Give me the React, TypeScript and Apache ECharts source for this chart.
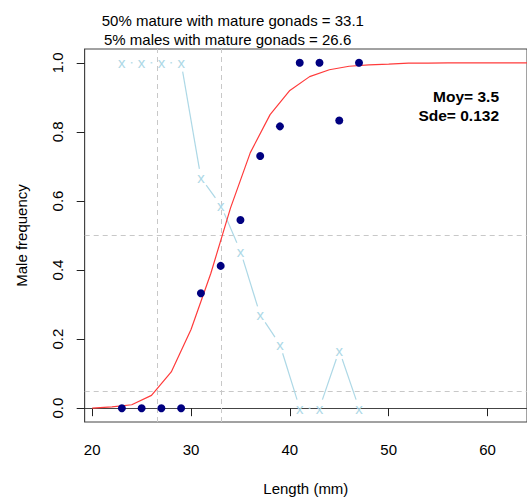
import React, { useEffect, useRef } from "react";
import * as echarts from "echarts";

// ---- data ----
const lengths = [23, 25, 27, 29, 31, 33, 35, 37, 39, 41, 43, 45, 47];
const maleFreq = [0, 0, 0, 0, 0.333, 0.412, 0.545, 0.73, 0.816, 1, 1, 0.833, 1];
const femaleFreq = [1, 1, 1, 1, 0.667, 0.588, 0.455, 0.27, 0.184, 0, 0, 0.167, 0];
const curveLengths = [20, 22, 24, 26, 28, 30, 32, 34, 36, 38, 40, 42, 44, 46, 48, 50, 52, 54, 56, 58, 60, 62, 64];
const curveValues = [0.0, 0.004, 0.01, 0.037, 0.105, 0.228, 0.39, 0.58, 0.74, 0.85, 0.92, 0.96, 0.98, 0.99, 0.994, 0.996, 0.999, 0.999, 1, 1, 1, 1, 1];
const xTicks = [20, 30, 40, 50, 60];
const yTicks = [0, 0.2, 0.4, 0.6, 0.8, 1.0];
const l50 = 33.1;
const l05 = 26.6;
const refLevels = [0.5, 0.05];
const titleLines = ["50% mature with mature gonads = 33.1", "5% males with mature gonads = 26.6"];
const statLines = ["Moy= 3.5", "Sde= 0.132"];

const FONT = '"Liberation Sans", Arial, sans-serif';

export default function App() {
  const ref = useRef<HTMLDivElement>(null);
  useEffect(() => {
    if (!ref.current) return;
    const chart = echarts.init(ref.current, null, { renderer: "svg" });
    const gap = 9;
    const n = lengths.length;
    const option: any = {
      animation: false,
      grid: {
        left: 84.7,
        top: 49,
        bottom: 78.3,
        right: -4.4,
        show: true,
        borderColor: "#444",
        borderWidth: 1,
        containLabel: false,
      },
      xAxis: {
        type: "value",
        min: 19.24,
        max: 64,
        name: "Length (mm)",
        nameLocation: "middle",
        nameGap: 59,
        nameTextStyle: { fontFamily: FONT, fontSize: 15, color: "#000" },
        axisLine: { show: true, lineStyle: { color: "#444" } },
        axisTick: { show: true, length: 8, lineStyle: { color: "#222" }, customValues: xTicks },
        axisLabel: {
          customValues: xTicks,
          fontFamily: FONT,
          fontSize: 15,
          color: "#000",
          margin: 20,
        },
        splitLine: { show: false },
      },
      yAxis: {
        type: "value",
        min: -0.04,
        max: 1.04,
        name: "Male frequency",
        nameLocation: "middle",
        nameGap: 56,
        nameRotate: 90,
        nameTextStyle: { fontFamily: FONT, fontSize: 15, color: "#000" },
        axisLine: { show: true, lineStyle: { color: "#444" } },
        axisTick: { show: true, length: 8, lineStyle: { color: "#222" }, customValues: yTicks },
        axisLabel: {
          customValues: yTicks,
          rotate: 90,
          fontFamily: FONT,
          fontSize: 15,
          color: "#000",
          margin: 20,
          formatter: (v: number) => v.toFixed(1),
        },
        splitLine: { show: false },
      },
      graphic: [
        {
          type: "text",
          left: 101.7,
          top: 13,
          style: { text: titleLines[0], font: `15px ${FONT}`, fill: "#000" },
        },
        {
          type: "text",
          left: 104,
          top: 32,
          style: { text: titleLines[1], font: `15px ${FONT}`, fill: "#000" },
        },
        {
          type: "text",
          right: 28,
          top: 88,
          style: { text: statLines[0], font: `bold 15.5px ${FONT}`, fill: "#000", align: "right" },
        },
        {
          type: "text",
          right: 28,
          top: 107,
          style: { text: statLines[1], font: `bold 15.5px ${FONT}`, fill: "#000", align: "right" },
        },
      ],
      series: [
        {
          type: "line",
          data: [],
          symbol: "none",
          z: 1,
          markLine: {
            silent: true,
            z: 1,
            symbol: "none",
            label: { show: false },
            lineStyle: { color: "#c8c8c8", type: [5, 4], width: 1 },
            data: [{ xAxis: l05 }, { xAxis: l50 }, { yAxis: refLevels[0] }, { yAxis: refLevels[1] }],
          },
        },
        {
          type: "line",
          data: curveLengths.map((x, i) => [x, curveValues[i]]),
          symbol: "none",
          lineStyle: { color: "#ff3b3b", width: 1.2 },
          z: 3,
        },
        {
          type: "custom",
          data: lengths.map((x, i) => [x, femaleFreq[i]]),
          encode: { x: 0, y: 1 },
          z: 2,
          renderItem: (params: any, api: any) => {
            const i = params.dataIndex;
            const p = api.coord([lengths[i], femaleFreq[i]]);
            const children: any[] = [
              {
                type: "text",
                x: p[0],
                y: p[1],
                style: {
                  text: "x",
                  fill: "#ADD8E6",
                  font: `15px ${FONT}`,
                  align: "center",
                  verticalAlign: "middle",
                },
              },
            ];
            if (i < n - 1) {
              const q = api.coord([lengths[i + 1], femaleFreq[i + 1]]);
              const dx = q[0] - p[0];
              const dy = q[1] - p[1];
              const d = Math.hypot(dx, dy);
              if (d > 2 * gap) {
                const ux = dx / d;
                const uy = dy / d;
                children.push({
                  type: "line",
                  shape: {
                    x1: p[0] + ux * gap,
                    y1: p[1] + uy * gap,
                    x2: q[0] - ux * gap,
                    y2: q[1] - uy * gap,
                  },
                  style: { stroke: "#ADD8E6", lineWidth: 1.2 },
                });
              }
            }
            return { type: "group", children };
          },
        },
        {
          type: "scatter",
          data: lengths.map((x, i) => [x, maleFreq[i]]),
          symbol: "circle",
          symbolSize: 8,
          itemStyle: { color: "#000080", opacity: 1 },
          z: 4,
        },
      ],
    };
    chart.setOption(option);
    return () => chart.dispose();
  }, []);
  return (
    <div
      ref={ref}
      style={{ position: "fixed", left: 0, top: 0, width: 527, height: 501, background: "#fff" }}
    />
  );
}
